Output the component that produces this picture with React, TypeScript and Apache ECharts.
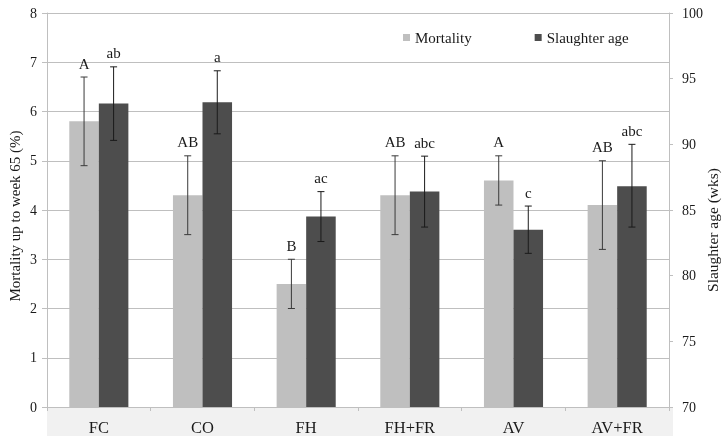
import React, { useEffect, useRef } from "react";
import * as echarts from "echarts";

const categories = ["FC", "CO", "FH", "FH+FR", "AV", "AV+FR"];
const mortality = [5.8, 4.3, 2.5, 4.3, 4.6, 4.1];
const mortalityLow = [4.9, 3.5, 2.0, 3.5, 4.1, 3.2];
const mortalityHigh = [6.7, 5.1, 3.0, 5.1, 5.1, 5.0];
const mortalityLetters = ["A", "AB", "B", "AB", "A", "AB"];
const slaughter = [93.1, 93.2, 84.5, 86.4, 83.5, 86.8];
const slaughterLow = [90.3, 90.8, 82.6, 83.7, 81.7, 83.7];
const slaughterHigh = [95.9, 95.6, 86.4, 89.1, 85.3, 90.0];
const slaughterLetters = ["ab", "a", "ac", "abc", "c", "abc"];
const leftTicks = { min: 0, max: 8, interval: 1 };
const rightTicks = { min: 70, max: 100, interval: 5 };

const FONT = "'Liberation Serif', 'Times New Roman', serif";
const BAR_RATIO = 0.285;

function errorSeries(name: string, yAxisIndex: number, low: number[], high: number[], letters: string[], side: number, color: string) {
  return {
    name,
    type: "custom",
    yAxisIndex,
    z: 5,
    data: categories.map((_, i) => [i, low[i], high[i], letters[i]]),
    renderItem: (params: any, api: any) => {
      const idx = api.value(0);
      const lo = api.coord([idx, api.value(1)]);
      const hi = api.coord([idx, api.value(2)]);
      const band = api.size([1, 0])[0];
      const x = lo[0] + (side * band * BAR_RATIO) / 2;
      const cap = 3.5;
      const s = { stroke: color, lineWidth: 1 };
      return {
        type: "group",
        children: [
          { type: "line", shape: { x1: x, y1: lo[1], x2: x, y2: hi[1] }, style: s },
          { type: "line", shape: { x1: x - cap, y1: lo[1], x2: x + cap, y2: lo[1] }, style: s },
          { type: "line", shape: { x1: x - cap, y1: hi[1], x2: x + cap, y2: hi[1] }, style: s },
          {
            type: "text",
            x,
            y: hi[1] - 6,
            style: {
              text: letters[idx],
              fill: "#1a1a1a",
              font: `15px ${FONT}`,
              align: "center",
              verticalAlign: "bottom",
            },
          },
        ],
      };
    },
  };
}

export default function App() {
  const ref = useRef<HTMLDivElement>(null);
  useEffect(() => {
    const chart = echarts.init(ref.current!, null, { renderer: "svg" });
    chart.setOption({
      animation: false,
      textStyle: { fontFamily: FONT },
      grid: { left: 47, right: 59, top: 13, bottom: 28, containLabel: false },
      legend: {
        left: 403,
        top: 30,
        padding: 0,
        itemWidth: 7,
        itemHeight: 7,
        itemGap: 63,
        icon: "rect",
        textStyle: { fontFamily: FONT, fontSize: 15, color: "#1a1a1a" },
        data: ["Mortality", "Slaughter age"],
      },
      graphic: [
        {
          type: "rect",
          z: -10,
          shape: { x: 47, y: 408, width: 626, height: 28 },
          style: { fill: "#f1f1f1" },
        },
        {
          type: "text",
          x: 15,
          y: 216,
          rotation: Math.PI / 2,
          style: {
            text: "Mortality up to week 65 (%)",
            font: `15px ${FONT}`,
            fill: "#1a1a1a",
            align: "center",
            verticalAlign: "middle",
          },
        },
        {
          type: "text",
          x: 712,
          y: 230,
          rotation: Math.PI / 2,
          style: {
            text: "Slaughter age (wks)",
            font: `15.5px ${FONT}`,
            fill: "#1a1a1a",
            align: "center",
            verticalAlign: "middle",
          },
        },
      ],
      xAxis: {
        type: "category",
        data: categories,
        axisLine: { show: true, lineStyle: { color: "#bfbfbf" } },
        axisTick: { show: true, length: 4, lineStyle: { color: "#bfbfbf" } },
        axisLabel: { fontFamily: FONT, fontSize: 16.5, color: "#1a1a1a", margin: 12 },
      },
      yAxis: [
        {
          type: "value",
          ...leftTicks,
          axisLine: { show: true, lineStyle: { color: "#bfbfbf" } },
          axisTick: { show: true, length: 5, lineStyle: { color: "#bfbfbf" } },
          axisLabel: { fontFamily: FONT, fontSize: 14, color: "#1a1a1a", margin: 10 },
          splitLine: { show: true, lineStyle: { color: "#bfbfbf" } },
        },
        {
          type: "value",
          position: "right",
          ...rightTicks,
          axisLine: { show: true, lineStyle: { color: "#bfbfbf" } },
          axisTick: { show: true, length: 4, lineStyle: { color: "#bfbfbf" } },
          axisLabel: { fontFamily: FONT, fontSize: 14, color: "#1a1a1a", margin: 13 },
          splitLine: { show: false },
        },
      ],
      series: [
        {
          name: "Mortality",
          type: "bar",
          yAxisIndex: 0,
          data: mortality,
          barWidth: `${BAR_RATIO * 100}%`,
          barGap: "0%",
          itemStyle: { color: "#bfbfbf" },
        },
        {
          name: "Slaughter age",
          type: "bar",
          yAxisIndex: 1,
          data: slaughter,
          barWidth: `${BAR_RATIO * 100}%`,
          barGap: "0%",
          itemStyle: { color: "#4d4d4d" },
        },
        errorSeries("mErr", 0, mortalityLow, mortalityHigh, mortalityLetters, -1, "#3a3a3a"),
        errorSeries("sErr", 1, slaughterLow, slaughterHigh, slaughterLetters, 1, "#1a1a1a"),
      ],
    });
    return () => chart.dispose();
  }, []);
  return <div ref={ref} style={{ position: "fixed", left: 0, top: 0, width: 728, height: 436 }} />;
}
